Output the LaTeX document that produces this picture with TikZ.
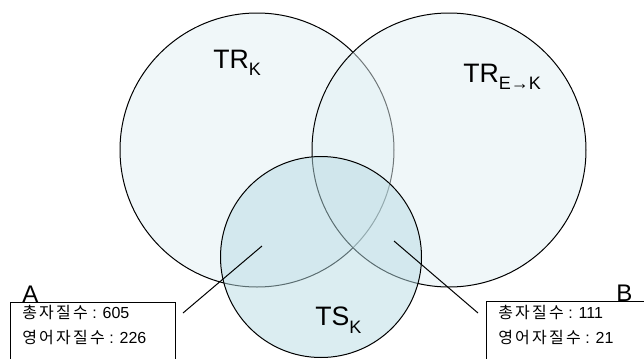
\documentclass[tikz,border=0pt]{standalone}
\usepackage{fontspec}
\setmainfont{Liberation Sans}
\newfontfamily\kr[LetterSpace=14]{Noto Sans CJK KR}
\usetikzlibrary{positioning}

\definecolor{trfill}{HTML}{E1EFF3}
\definecolor{tsfill}{HTML}{B7DBE3}

\newcommand{\setname}[3]{#1\raisebox{-#3}{\fontsize{13.5}{14}\selectfont #2}}

\begin{document}
\begin{tikzpicture}[x=0.75pt,y=-0.75pt,
	venn/.style={circle,draw=black,line width=0.75pt,fill=#1,fill opacity=0.5,text opacity=1,inner sep=0pt},
	setlbl/.style={inner sep=0pt,anchor=base west,font=\fontsize{20}{22}\selectfont},
	infobox/.style={draw=black,line width=0.6pt,fill=white,inner sep=0pt,anchor=north west},
	boxtxt/.style={inner sep=0pt,anchor=base west,font=\fontsize{12}{14}\selectfont},
	tag/.style={inner sep=0pt,anchor=base west,font=\fontsize{18}{20}\selectfont},
	leader/.style={draw=black,line width=0.75pt}]
		
		\useasboundingbox (0,0) rectangle (644,358);
		
		%Sets
		\node[venn=trfill,minimum size=205.5pt] (trk) at (257,150) {};
		\node[venn=trfill,minimum size=205.5pt] (trek) at (449,150) {};
		\node[venn=tsfill,minimum size=150.75pt] (tsk) at (321,257) {};
		
		%Set names
		\node[setlbl] (trk-lbl) at (213,68) {\setname{TR}{K}{5.25pt}};
		\node[setlbl] (trek-lbl) at (463,82) {\setname{TR}{E→K}{5.25pt}};
		\node[setlbl] (tsk-lbl) at (315,325) {\setname{TS}{K}{6pt}};
		
		%Leader ends
		\coordinate (a-in) at (262,246);
		\coordinate (a-out) at (183,313);
		\coordinate (b-in) at (394,241);
		\coordinate (b-out) at (478,313);
		\draw[leader] (a-in) -- (a-out);
		\draw[leader] (b-in) -- (b-out);
		
		%Boxes
		\node[infobox,minimum width=123.75pt,minimum height=51pt] (box-a) at (10,302) {};
		\node[infobox,minimum width=130.5pt,minimum height=51pt] (box-b) at (486,301) {};
		\node[tag] (tag-a) at (22,302) {A};
		\node[tag] (tag-b) at (616,301) {B};
		\node[boxtxt] (a-l1) at (22,318) {{\kr 총자질수} : 605};
		\node[boxtxt] (a-l2) at (22,343) {{\kr 영어자질수} : 226};
		\node[boxtxt] (b-l1) at (498,318) {{\kr 총자질수} : 111};
		\node[boxtxt] (b-l2) at (498,343) {{\kr 영어자질수} : 21};
		
\end{tikzpicture}
\end{document}
